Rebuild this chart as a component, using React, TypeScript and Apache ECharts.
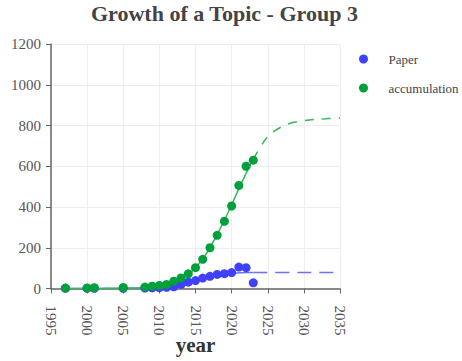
import React, { useEffect, useRef } from "react";
import * as echarts from "echarts";

const pointYears = [1997, 2000, 2001, 2005, 2008, 2009, 2010, 2011, 2012, 2013, 2014, 2015, 2016, 2017, 2018, 2019, 2020, 2021, 2022, 2023];
const paperValues = [1, 1, 1, 1, 2, 3, 4, 6, 8, 20, 31, 39, 51, 60, 69, 73, 78, 105, 102, 28];
const accumulationValues = [2, 3, 4, 5, 7, 11, 15, 20, 36, 52, 72, 102, 143, 200, 261, 330, 405, 506, 600, 630];

const fitYears = [1997, 1998, 1999, 2000, 2001, 2002, 2003, 2004, 2005, 2006, 2007, 2008, 2009, 2010, 2011, 2012, 2013, 2014, 2015, 2016, 2017, 2018, 2019, 2020, 2021, 2022, 2023];
const paperFit = [0, 0, 0, 0, 0, 0, 0, 0.5, 0.5, 1, 1, 1.5, 2.5, 4, 7, 12, 19, 28, 38, 48, 57, 65, 71, 75, 77, 78, 79];
const accumulationFit = [0, 0, 0, 0, 0, 0.5, 1, 1, 1.5, 2, 3, 5, 8, 13, 20, 31, 47, 70, 102, 145, 200, 265, 335, 410, 490, 565, 635];

const forecastYears = [2023, 2024, 2025, 2026, 2027, 2028, 2029, 2030, 2031, 2032, 2033, 2034, 2035];
const paperForecast = [79, 79, 79, 79, 79, 79, 79, 79, 79, 79, 79, 79, 79];
const accumulationForecast = [635, 695, 745, 775, 795, 810, 818, 824, 828, 831, 833, 835, 837];

const yTicks = [0, 200, 400, 600, 800, 1000, 1200];

const pairs = (xs: number[], ys: number[]) => xs.map((x, i) => [x, ys[i]]);

const FONT = "'Liberation Serif', 'DejaVu Serif', serif";
const BLUE = "#4040ff";
const GREEN = "#00a03a";
const BLUE_LINE = "#6e6eff";
const GREEN_LINE = "#35b85a";

export default function App() {
  const ref = useRef<HTMLDivElement>(null);
  useEffect(() => {
    document.body.style.margin = "0";
    if (!ref.current) return;
    const chart = echarts.init(ref.current, undefined, { renderer: "svg" });
    chart.setOption({
      animation: false,
      backgroundColor: "#ffffff",
      title: {
        text: "Growth of a Topic - Group 3",
        left: 86,
        top: -3,
        textStyle: { fontFamily: FONT, fontSize: 22, fontWeight: "bold", color: "#444444" },
      },
      legend: {
        data: ["Paper", "accumulation"],
        orient: "vertical",
        left: 354,
        top: 47,
        itemWidth: 40,
        itemHeight: 9,
        itemGap: 15,
        icon: "circle",
        textStyle: { fontFamily: FONT, fontSize: 13, color: "#444444", lineHeight: 14 },
      },
      grid: { left: 51, right: 122, top: 44, bottom: 72.5, outerBoundsMode: "none" },
      xAxis: {
        type: "value",
        min: 1995,
        max: 2035,
        interval: 5,
        name: "year",
        nameLocation: "middle",
        nameGap: 46,
        nameMoveOverlap: false,
        nameTextStyle: { fontFamily: FONT, fontSize: 21, fontWeight: "bold", color: "#333333" },
        axisLine: { show: true, onZero: false, lineStyle: { color: "#666666", width: 1.5 } },
        axisTick: { show: true, length: 5, lineStyle: { color: "#666666" } },
        axisLabel: { rotate: -90, margin: 17, fontFamily: FONT, fontSize: 15, color: "#555555", formatter: (v: number) => String(v) },
        splitLine: { show: true, lineStyle: { color: "#eeeeee", width: 1 } },
      },
      yAxis: {
        type: "value",
        min: yTicks[0],
        max: yTicks[yTicks.length - 1],
        interval: 200,
        axisLine: { show: true, lineStyle: { color: "#666666", width: 1.5 } },
        axisTick: { show: true, length: 5, lineStyle: { color: "#666666" } },
        axisLabel: { margin: 10, fontFamily: FONT, fontSize: 15, color: "#555555", formatter: (v: number) => String(v) },
        splitLine: { show: true, lineStyle: { color: "#eeeeee", width: 1 } },
      },
      series: [
        {
          name: "Paper fit",
          type: "line",
          data: pairs(fitYears, paperFit),
          showSymbol: false,
          smooth: true,
          lineStyle: { color: BLUE_LINE, width: 1.5 },
          z: 1,
        },
        {
          name: "Paper forecast",
          type: "line",
          data: pairs(forecastYears, paperForecast),
          showSymbol: false,
          lineStyle: { color: BLUE_LINE, width: 1.5, type: [14, 8] },
          z: 1,
        },
        {
          name: "accumulation fit",
          type: "line",
          data: pairs(fitYears, accumulationFit),
          showSymbol: false,
          smooth: true,
          lineStyle: { color: GREEN_LINE, width: 1.5 },
          z: 1,
        },
        {
          name: "accumulation forecast",
          type: "line",
          data: pairs(forecastYears, accumulationForecast),
          showSymbol: false,
          smooth: true,
          lineStyle: { color: GREEN_LINE, width: 1.5, type: [9, 8] },
          z: 1,
        },
        {
          name: "Paper",
          type: "scatter",
          data: pairs(pointYears, paperValues),
          symbol: "circle",
          symbolSize: 9,
          itemStyle: { color: BLUE, opacity: 1 },
          z: 2,
        },
        {
          name: "accumulation",
          type: "scatter",
          data: pairs(pointYears, accumulationValues),
          symbol: "circle",
          symbolSize: 9,
          itemStyle: { color: GREEN, opacity: 1 },
          z: 3,
        },
      ],
    });
    return () => chart.dispose();
  }, []);
  return <div ref={ref} style={{ width: 462, height: 361 }} />;
}
